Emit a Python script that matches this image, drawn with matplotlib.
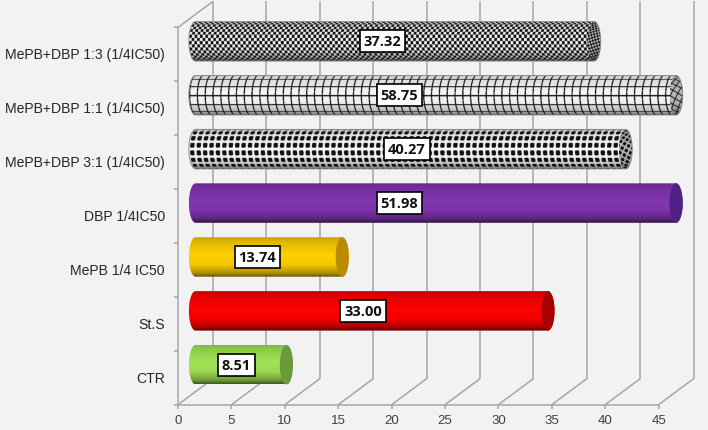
import numpy as np
import matplotlib
matplotlib.use("Agg")
import matplotlib.pyplot as plt
from matplotlib.patches import Polygon

categories = ["CTR", "St.S", "MePB 1/4 IC50", "DBP 1/4IC50", "MePB+DBP 3:1 (1/4IC50)",
              "MePB+DBP 1:1 (1/4IC50)", "MePB+DBP 1:3 (1/4IC50)"]
values = [8.51, 33.00, 13.74, 51.98, 40.27, 58.75, 37.32]
x_ticks = [0, 5, 10, 15, 20, 25, 30, 35, 40, 45]
AXIS_MAX = 45

# fill of each bar
body_colors = ["#a2e356", "#ff0000", "#ffd000", "#8236b4", None, None, None]
cap_colors = ["#6b9a3c", "#a80000", "#b98c00", "#4f2182", None, None, None]
patterns = [None, None, None, None, "dots", "grid", "checker"]
# the value boxes are not centred on the bars in the original
label_x = [3.8, 15.7, 5.8, 19.1, 19.8, 19.1, 17.5]

# layout, in pixels of the 708x431 picture
W, H = 708, 431
X0, PX_X = 178.0, 10.68
Y0, PX_Y = 405.7, 53.9
DEPTH_X, DEPTH_Y = 35.0 / PX_X, 26.0 / PX_Y
BAR_H = 0.366
CAP_W = 6.6 / PX_X
GRID = "#a6a6a6"
BG = "#f2f2f2"
SS = 3


def shade(t):
    return np.interp(t, [-1, -0.75, -0.1, 0.4, 0.8, 1], [0.78, 0.88, 1.0, 0.95, 0.68, 0.36])


def pattern_mask(kind, u, s):
    # 1 = light, 0 = dark
    if kind == "checker":
        p = 5.4
        return (((u // (p / 2)) + (s // (p / 2))) % 2).astype(float)
    if kind == "grid":
        p = 7.8
        return ~((u % p < 1.2) | (s % p < 1.2)) * 1.0
    # dots, squarish
    p = 6.4
    du = (u % p) - p / 2
    ds = (s % p) - p / 2
    return (du ** 4 + ds ** 4 > 2.15 ** 4) * 1.0


def body_image(color, kind, w_px, h_px, factor=1.0):
    ny, nx = int(h_px * SS), int(w_px * SS)
    y = (np.arange(ny) + 0.5) / SS
    x = (np.arange(nx) + 0.5) / SS
    t = 2 * y / h_px - 1
    tt, xx = np.meshgrid(t, x, indexing="ij")
    f = shade(tt)[..., None] * factor
    if kind is None:
        rgb = np.array(matplotlib.colors.to_rgb(color))
        return np.clip(rgb * f, 0, 1)
    s = (h_px / 2) * np.arcsin(tt) * 0.85
    u = xx - 6.6 * (1 - np.sqrt(1 - tt ** 2))
    if factor < 1:
        u = u * 1.3 + s * 0.7
        s = s * 1.3 - xx * 0.7
    m = pattern_mask(kind, u, s)[..., None]
    light = np.array([0.97, 0.97, 0.97])
    dark = np.array([0.07, 0.07, 0.07])
    return np.clip((m * light + (1 - m) * dark) * (0.15 + 0.85 * f), 0, 1)


def ellipse_pts(cx, cy, start, stop, n=60):
    th = np.radians(np.linspace(start, stop, n))
    return np.column_stack([cx + CAP_W * np.cos(th), cy + BAR_H * np.sin(th)])


fig = plt.figure(figsize=(W / 100, H / 100), dpi=100, facecolor=BG)
ax = fig.add_axes([0, 0, 1, 1])
ax.set_axis_off()

# walls
line = dict(color=GRID, lw=1.1, solid_capstyle="butt", zorder=1)
n_cat = len(categories)
ax.plot([0, 0], [0, n_cat], **line)
ax.plot([0, AXIS_MAX], [0, 0], **line)
ax.plot([0, DEPTH_X], [n_cat, n_cat + DEPTH_Y], **line)
for v in x_ticks:
    ax.plot([v, v + DEPTH_X], [0, DEPTH_Y], **line)
    ax.plot([v + DEPTH_X] * 2, [DEPTH_Y, n_cat + DEPTH_Y], **line)
    ax.plot([v, v], [0, -4 / PX_Y], **line)
    ax.text(v, -15.5 / PX_Y, str(v), ha="center", va="center", fontsize=9.5,
            family="Liberation Sans", color="#404040")
for c in range(n_cat + 1):
    ax.plot([-4 / PX_X, 0], [c, c], **line)

# bars
for i, (name, val) in enumerate(zip(categories, values)):
    left = DEPTH_X / 2
    right = left + min(val, AXIS_MAX)
    cy = i + 0.5 + DEPTH_Y / 2
    ax.text(-13 / PX_X, i + 0.5, name, ha="right", va="center", fontsize=10.1,
            family="Liberation Sans", color="#262626")

    outline = np.vstack([ellipse_pts(left, cy, 90, 270), ellipse_pts(right, cy, -90, 90)])
    ext = (left - CAP_W, right + CAP_W, cy - BAR_H, cy + BAR_H)
    w_px = (ext[1] - ext[0]) * PX_X
    h_px = 2 * BAR_H * PX_Y
    im = ax.imshow(body_image(body_colors[i], patterns[i], w_px, h_px), extent=ext,
                   origin="upper", aspect="auto", interpolation="hanning", zorder=3)
    im.set_clip_path(Polygon(outline, transform=ax.transData))

    cap = ellipse_pts(right, cy, 0, 360)
    if patterns[i] is None:
        ax.add_patch(Polygon(cap, closed=True, fc=cap_colors[i], ec="none", zorder=4))
    else:
        ext_c = (right - CAP_W, right + CAP_W, cy - BAR_H, cy + BAR_H)
        im2 = ax.imshow(body_image(None, patterns[i], 2 * CAP_W * PX_X, h_px, factor=0.7),
                        extent=ext_c, origin="upper", aspect="auto",
                        interpolation="hanning", zorder=4)
        im2.set_clip_path(Polygon(cap, transform=ax.transData))
        ax.add_patch(Polygon(outline, closed=True, fc="none", ec="#8c8c8c", lw=0.7, zorder=4))

    ax.text(left + label_x[i], cy, f"{val:.2f}", ha="center", va="center", fontsize=10.5,
            family="Open Sans", weight="bold", color="#111111", zorder=5,
            bbox=dict(boxstyle="square,pad=0.27", fc="white", ec="black", lw=1.2))

ax.set_xlim(-X0 / PX_X, (W - X0) / PX_X)
ax.set_ylim((Y0 - H) / PX_Y, Y0 / PX_Y)

fig.savefig("out.png", dpi=100, facecolor=BG)
